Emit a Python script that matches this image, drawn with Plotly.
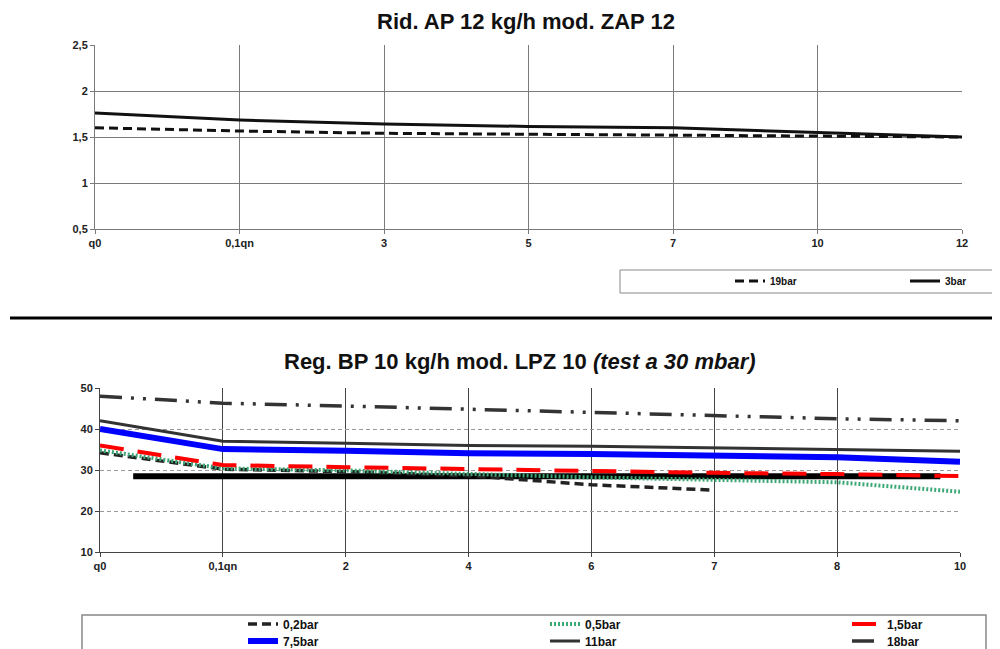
import plotly.graph_objects as go

W, H = 1000, 649
OFF = 8  # page body margin offset of the embedded figure

# ---------------- data ----------------
top_categories = ["q0", "0,1qn", "3", "5", "7", "10", "12"]
top_19bar = [1.60, 1.565, 1.54, 1.53, 1.52, 1.51, 1.50]
top_3bar = [1.76, 1.685, 1.64, 1.615, 1.60, 1.55, 1.50]
top_yticks = [0.5, 1, 1.5, 2, 2.5]
top_ytick_labels = ["0,5", "1", "1,5", "2", "2,5"]

bot_categories = ["q0", "0,1qn", "2", "4", "6", "7", "8", "10"]
bot_02bar = [34.2, 30.2, 29.6, 28.6, 26.4, 25.1, None, None]
bot_05bar = [34.8, 30.4, 29.9, 29.0, 28.2, 27.6, 27.0, 24.7]
bot_15bar = [36.0, 31.2, 30.7, 30.2, 29.6, 29.3, 29.0, 28.5]
bot_75bar = [40.0, 35.1, 34.7, 34.1, 33.9, 33.6, 33.1, 32.0]
bot_11bar = [42.0, 37.0, 36.5, 36.0, 35.8, 35.4, 35.1, 34.6]
bot_18bar = [48.0, 46.3, 45.6, 44.8, 44.0, 43.2, 42.5, 42.0]
bot_yticks = [10, 20, 30, 40, 50]
# thick black reference line (category-index positions)
ref_x = [0.27, 6.84]
ref_y = [28.5, 28.5]

top_x = list(range(len(top_categories)))
bot_x = list(range(len(bot_categories)))


def xp(px):
    return (px - OFF) / W


def yp(py):
    return 1 - (py - OFF) / H


FONT = "Liberation Sans"
fig = go.Figure()

# ---------------- top chart ----------------
fig.add_trace(go.Scatter(x=top_x, y=top_19bar, mode="lines", name="19bar",
                         line=dict(color="#111", width=3, dash="9px,5px"),
                         xaxis="x", yaxis="y", legend="legend7"))
fig.add_trace(go.Scatter(x=top_x, y=top_3bar, mode="lines", name="3bar",
                         line=dict(color="#111", width=3),
                         xaxis="x", yaxis="y", legend="legend8"))

# ---------------- bottom chart ----------------
fig.add_trace(go.Scatter(x=ref_x, y=ref_y, mode="lines", showlegend=False,
                         line=dict(color="#000", width=6),
                         xaxis="x2", yaxis="y2", hoverinfo="skip"))
bot_series = [
    ("0,2bar", bot_02bar, dict(color="#222", width=3.5, dash="9px,5px"), "legend"),
    ("0,5bar", bot_05bar, dict(color="#3da876", width=4, dash="2px,2px"), "legend2"),
    ("1,5bar", bot_15bar, dict(color="#ff0000", width=4, dash="24px,14px"), "legend3"),
    ("7,5bar", bot_75bar, dict(color="#0000ff", width=6), "legend4"),
    ("11bar", bot_11bar, dict(color="#333", width=3), "legend5"),
    ("18bar", bot_18bar, dict(color="#333", width=3.5, dash="22px,9px,3px,9px,3px,9px"), "legend6"),
]
for name, vals, line, lg in bot_series:
    fig.add_trace(go.Scatter(x=bot_x, y=vals, mode="lines", name=name, line=line,
                             xaxis="x2", yaxis="y2", legend=lg, connectgaps=False))

tickfont = dict(family=FONT, size=11, color="#222", weight="bold")

layout = dict(
    width=W, height=H,
    margin=dict(l=0, r=0, t=0, b=0, autoexpand=False),
    paper_bgcolor="white", plot_bgcolor="white",
    separators=",.",
    showlegend=True,
    xaxis=dict(domain=[xp(95), xp(962)], range=[0, len(top_categories) - 1],
               tickvals=top_x, ticktext=top_categories, showgrid=True,
               gridcolor="#7a7a7a", gridwidth=1, showline=True, linecolor="#7a7a7a",
               ticks="outside", ticklen=4, tickcolor="#7a7a7a", tickfont=tickfont,
               zeroline=False, anchor="y", fixedrange=True),
    yaxis=dict(domain=[yp(229), yp(45)], range=[0.5, 2.5], tickvals=top_yticks,
               ticktext=top_ytick_labels, showgrid=True, gridcolor="#7a7a7a",
               gridwidth=1, showline=True, linecolor="#7a7a7a", ticks="outside",
               ticklen=4, tickcolor="#7a7a7a", tickfont=tickfont, zeroline=False,
               anchor="x", fixedrange=True),
    xaxis2=dict(domain=[xp(100), xp(960)], range=[0, len(bot_categories) - 1],
                tickvals=bot_x, ticktext=bot_categories, showgrid=True,
                gridcolor="#444", gridwidth=1, showline=True, linecolor="#444",
                ticks="outside", ticklen=4, tickcolor="#444", tickfont=tickfont,
                zeroline=False, anchor="y2", fixedrange=True),
    yaxis2=dict(domain=[yp(552), yp(388)], range=[10, 50], tickvals=bot_yticks,
                showgrid=True, gridcolor="#9a9a9a", gridwidth=1, griddash="4px,3px",
                showline=True, linecolor="#444", ticks="outside", ticklen=4,
                tickcolor="#444", tickfont=tickfont, zeroline=False, anchor="x2",
                fixedrange=True),
    annotations=[
        dict(text="<b>Rid. AP 12 kg/h mod. ZAP 12</b>", x=xp(526), y=yp(21),
             xref="paper", yref="paper", showarrow=False, xanchor="center",
             yanchor="middle", font=dict(family=FONT, size=22, color="#111")),
        dict(text="<b>Reg. BP 10 kg/h mod. LPZ 10 <i>(test a 30 mbar)</i></b>",
             x=xp(520), y=yp(361), xref="paper", yref="paper", showarrow=False,
             xanchor="center", yanchor="middle",
             font=dict(family=FONT, size=22, color="#111")),
    ],
    shapes=[
        dict(type="line", xref="paper", yref="paper", x0=xp(10), x1=xp(1000),
             y0=yp(318), y1=yp(318), line=dict(color="#000", width=3)),
        dict(type="rect", xref="paper", yref="paper", x0=xp(620), x1=xp(998),
             y0=yp(293), y1=yp(270), line=dict(color="#888", width=1)),
        dict(type="rect", xref="paper", yref="paper", x0=xp(82), x1=xp(986),
             y0=yp(670), y1=yp(615), line=dict(color="#888", width=1.5)),
    ],
)

bot_legfont = dict(family=FONT, size=12, color="#111", weight="bold")
top_legfont = dict(family=FONT, size=10, color="#111", weight="bold")
leg_pos = {
    "legend": (283, 624), "legend2": (585, 624), "legend3": (887, 624),
    "legend4": (283, 641), "legend5": (585, 641), "legend6": (887, 641),
    "legend7": (770, 281), "legend8": (945, 281),
}
for key, (tx, ty) in leg_pos.items():
    layout[key] = dict(x=xp(tx - 40), y=yp(ty), xanchor="left", yanchor="middle",
                       bgcolor="rgba(0,0,0,0)", borderwidth=0,
                       font=top_legfont if key in ("legend7", "legend8") else bot_legfont,
                       orientation="v", itemclick=False, itemdoubleclick=False)

fig.update_layout(**layout)
fig.write_html("out.html")
